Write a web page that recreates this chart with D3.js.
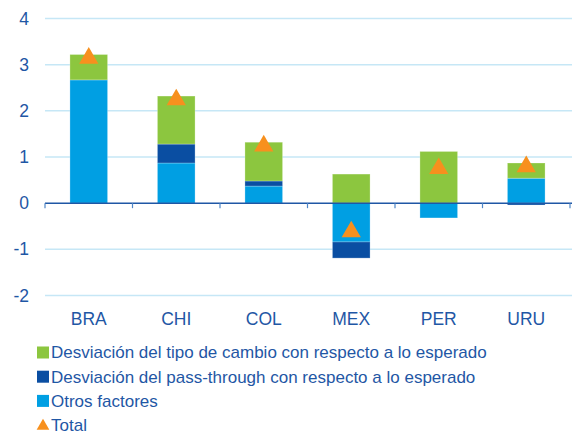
<!DOCTYPE html>
<html>
<head>
<meta charset="utf-8">
<script src="https://cdn.jsdelivr.net/npm/d3@7"></script>
<style>
  body { margin: 0; background: #fff; }
  svg { font-family: "Liberation Sans", Arial, sans-serif; }
</style>
</head>
<body>
<div id="container"></div>
<script>
// data
let countries = ["BRA", "CHI", "COL", "MEX", "PER", "URU"];
let tipoCambio = [0.55, 1.04, 0.84, 0.63, 1.12, 0.33];
let passThrough = [0.0, 0.41, 0.11, -0.35, 0.0, -0.04];
let otros = [2.67, 0.87, 0.37, -0.84, -0.32, 0.54];
let total = [3.2, 2.3, 1.3, -0.56, 0.81, 0.85];
let yTicks = [-2, -1, 0, 1, 2, 3, 4];

let seriesNames = [
  "Desviación del tipo de cambio con respecto a lo esperado",
  "Desviación del pass-through con respecto a lo esperado",
  "Otros factores",
  "Total"
];
let colors = ["#8cc63f", "#0a4ea2", "#009fe3", "#f7901e"];
let textColor = "#1f57a5";

let w = 573;
let h = 434;
let pLeft = 45, pRight = 570, pTop = 18.5, pBottom = 295.5;

let svg = d3.select("#container")
  .append("svg")
  .attr("width", w)
  .attr("height", h);

let x = d3.scaleBand()
  .domain(countries)
  .range([pLeft, pRight])
  .paddingInner(0.57)
  .paddingOuter(0.285);

let y = d3.scaleLinear()
  .domain([-2, 4])
  .range([pBottom, pTop]);

// grid
svg.append("g")
  .selectAll("line")
  .data(yTicks.filter(d => d != 0))
  .enter()
  .append("line")
  .attr("x1", pLeft)
  .attr("x2", pRight + 2)
  .attr("y1", d => y(d))
  .attr("y2", d => y(d))
  .attr("stroke", "#c6e7f6")
  .attr("stroke-width", 1.5);

// y labels
svg.append("g")
  .selectAll("text")
  .data(yTicks)
  .enter()
  .append("text")
  .attr("x", 29)
  .attr("y", d => y(d))
  .attr("dy", "0.35em")
  .attr("text-anchor", "end")
  .attr("fill", textColor)
  .style("font-size", "17.5px")
  .text(d => d);

// stacked bars: order otros, pass-through, tipo de cambio
let series = [otros, passThrough, tipoCambio];
let seriesColors = [colors[2], colors[1], colors[0]];
let rects = [];
countries.forEach(function(c, i) {
  let pos = 0, neg = 0;
  series.forEach(function(s, k) {
    let v = s[i];
    if (v == 0) return;
    let y0, y1;
    if (v > 0) { y0 = pos; y1 = pos + v; pos = y1; }
    else { y0 = neg + v; y1 = neg; neg = y0; }
    rects.push({ c: c, y0: y0, y1: y1, color: seriesColors[k] });
  });
});

svg.append("g")
  .selectAll("rect")
  .data(rects)
  .enter()
  .append("rect")
  .attr("x", d => x(d.c))
  .attr("width", x.bandwidth())
  .attr("y", d => y(d.y1))
  .attr("height", d => y(d.y0) - y(d.y1))
  .attr("fill", d => d.color)
  .attr("stroke", "#ffffff")
  .attr("stroke-opacity", 0.25)
  .attr("stroke-width", 1);

// zero axis
svg.append("line")
  .attr("x1", pLeft)
  .attr("x2", pRight + 2)
  .attr("y1", y(0))
  .attr("y2", y(0))
  .attr("stroke", "#1f57a5")
  .attr("stroke-width", 1.5);

let bounds = countries.map(c => x(c) - x.step() * x.paddingInner() / 2);
bounds.push(pRight);
svg.append("g")
  .selectAll("line")
  .data(bounds)
  .enter()
  .append("line")
  .attr("x1", d => d)
  .attr("x2", d => d)
  .attr("y1", y(0))
  .attr("y2", y(0) + 5)
  .attr("stroke", "#4f86c6")
  .attr("stroke-width", 1.2);

// x labels
svg.append("g")
  .selectAll("text")
  .data(countries)
  .enter()
  .append("text")
  .attr("x", d => x(d) + x.bandwidth() / 2)
  .attr("y", 324.5)
  .attr("text-anchor", "middle")
  .attr("fill", textColor)
  .style("font-size", "17.5px")
  .text(d => d);

// total triangles (centred on their bounding box, like the source markers)
let triSize = 160;
let triOff = Math.sqrt(triSize / (Math.sqrt(3) * 3)) / 2;
let tri = d3.symbol().type(d3.symbolTriangle).size(triSize);
svg.append("g")
  .selectAll("path")
  .data(total)
  .enter()
  .append("path")
  .attr("d", tri)
  .attr("transform", (d, i) => "translate(" + (x(countries[i]) + x.bandwidth() / 2) + "," + (y(d) + triOff) + ")")
  .attr("fill", colors[3]);

// legend
let legend = svg.append("g");
seriesNames.forEach(function(name, i) {
  let ly = 352.5 + i * 24.2;
  if (i < 3) {
    legend.append("rect")
      .attr("x", 37)
      .attr("y", ly - 6)
      .attr("width", 12)
      .attr("height", 12)
      .attr("fill", colors[i]);
  } else {
    legend.append("path")
      .attr("d", d3.symbol().type(d3.symbolTriangle).size(70))
      .attr("transform", "translate(43," + (ly + 1) + ")")
      .attr("fill", colors[3]);
  }
  legend.append("text")
    .attr("x", 51)
    .attr("y", ly)
    .attr("dy", "0.35em")
    .attr("fill", textColor)
    .style("font-size", "17px")
    .text(name);
});
</script>
</body>
</html>
